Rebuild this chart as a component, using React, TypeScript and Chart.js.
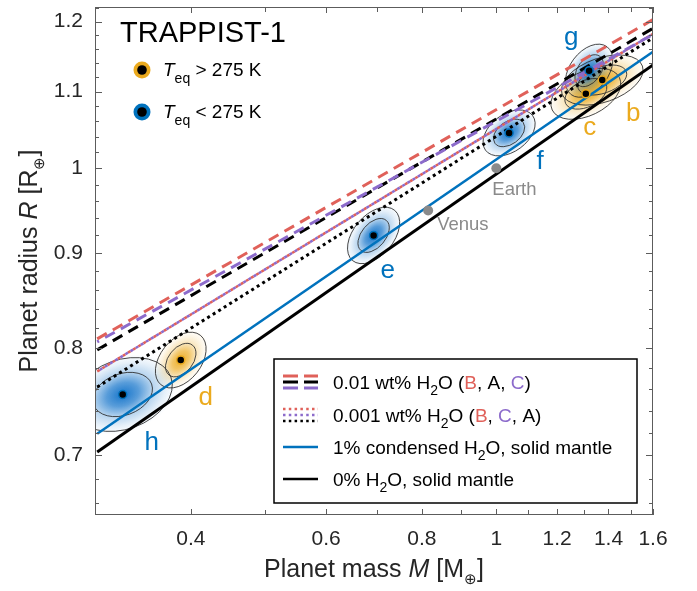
import React, { useEffect, useRef } from 'react';
import { Chart, registerables } from 'chart.js';

Chart.register(...registerables);

const FF = '"Liberation Sans", Arial, Helvetica, sans-serif';

// ---- data ----
const planetNames = ['b', 'c', 'd', 'e', 'f', 'g', 'h'];
const planetMass = [1.374, 1.308, 0.388, 0.692, 1.039, 1.321, 0.326];
const planetRadius = [1.116, 1.097, 0.788, 0.92, 1.045, 1.129, 0.755];
const planetMassErr = [0.069, 0.056, 0.012, 0.022, 0.033, 0.038, 0.02];
const planetRadiusErr = [0.014, 0.014, 0.011, 0.013, 0.012, 0.015, 0.014];
const planetCorr = [0.4, 0.4, 0.4, 0.45, 0.4, 0.4, 0.25];
const planetWarm = [true, true, true, false, false, false, false];

const refNames = ['Venus', 'Earth'];
const refMass = [0.815, 1.0];
const refRadius = [0.949, 1.0];

// model curves (straight in log-log): radius at the two ends of the mass range
const modelMass = [0.302, 1.6];
const r001B = [0.809, 1.203];
const r001A = [0.798, 1.19];
const r001C = [0.806, 1.181];
const r0001B = [0.777, 1.182];
const r0001C = [0.777, 1.182];
const r0001A = [0.762, 1.176];
const rCond1 = [0.719, 1.156];
const rDry = [0.703, 1.137];

const xTickValues = [0.4, 0.6, 0.8, 1, 1.2, 1.4, 1.6];
const xMinorValues = [0.5, 0.7, 0.9, 1.1, 1.3, 1.5];
const yTickValues = [0.7, 0.8, 0.9, 1, 1.1, 1.2];
const yMinorValues = [0.66, 0.68, 0.72, 0.74, 0.76, 0.78, 0.82, 0.84, 0.86, 0.88, 0.92, 0.94, 0.96, 0.98, 1.02, 1.04, 1.06, 1.08, 1.12, 1.14, 1.16, 1.18, 1.22];

// ---- styles ----
const RED = '#E0615A';
const PURPLE = '#8C6BCB';
const BLUE = '#0072BD';
const ORANGE = '#EBAA1E';
const GRAY = '#8A8A8A';
const TXT = '#262626';

// label offsets in px relative to the planet point
const planetLabelOffset: [number, number][] = [[31, 41], [4, 41], [25, 45], [14, 43], [31, 36], [-18, -26], [29, 56]];
const refLabelOffset: [number, number][] = [[9, 20], [-4, 27]];

type Seg = { t: string; size?: number; italic?: boolean; dy?: number; color?: string };

function drawRich(ctx: CanvasRenderingContext2D, segs: Seg[], x: number, y: number, align: 'left' | 'center', baseSize: number, color: string) {
  const fontOf = (s: Seg) => `${s.italic ? 'italic ' : ''}${s.size ?? baseSize}px ${FF}`;
  let total = 0;
  for (const s of segs) { ctx.font = fontOf(s); total += ctx.measureText(s.t).width; }
  let cx = align === 'center' ? x - total / 2 : x;
  ctx.textAlign = 'left';
  ctx.textBaseline = 'alphabetic';
  for (const s of segs) {
    ctx.font = fontOf(s);
    ctx.fillStyle = s.color ?? color;
    ctx.fillText(s.t, cx, y + (s.dy ?? 0));
    cx += ctx.measureText(s.t).width;
  }
}

function ellipseOf(i: number, xs: any, ys: any) {
  const cx = xs.getPixelForValue(planetMass[i]);
  const cy = ys.getPixelForValue(planetRadius[i]);
  const sx = xs.getPixelForValue(planetMass[i] + planetMassErr[i]) - cx;
  const sy = cy - ys.getPixelForValue(planetRadius[i] + planetRadiusErr[i]);
  const a = sx * sx, c = sy * sy, b = -planetCorr[i] * sx * sy;
  const theta = 0.5 * Math.atan2(2 * b, a - c);
  const m = (a + c) / 2, d = Math.sqrt(((a - c) / 2) ** 2 + b * b);
  return { cx, cy, theta, ra: Math.sqrt(m + d), rb: Math.sqrt(Math.max(m - d, 0.01)) };
}

const decoPlugin = {
  id: 'deco',
  beforeDatasetsDraw(chart: any) {
    const { ctx, chartArea: ar, scales } = chart;
    const xs = scales.x, ys = scales.y;
    ctx.save();
    ctx.beginPath();
    ctx.rect(ar.left, ar.top, ar.right - ar.left, ar.bottom - ar.top);
    ctx.clip();
    // shaded probability clouds
    for (let i = 0; i < planetNames.length; i++) {
      const e = ellipseOf(i, xs, ys);
      const rgb = planetWarm[i] ? '236,170,30' : '10,110,200';
      ctx.save();
      ctx.translate(e.cx, e.cy);
      ctx.rotate(e.theta);
      ctx.scale(e.ra, e.rb);
      const g = ctx.createRadialGradient(0, 0, 0, 0, 0, 2.7);
      g.addColorStop(0, `rgba(${rgb},0.95)`);
      g.addColorStop(0.3, `rgba(${rgb},0.68)`);
      g.addColorStop(0.55, `rgba(${rgb},0.3)`);
      g.addColorStop(0.8, `rgba(${rgb},0.1)`);
      g.addColorStop(1, `rgba(${rgb},0)`);
      ctx.fillStyle = g;
      ctx.beginPath();
      ctx.arc(0, 0, 2.7, 0, Math.PI * 2);
      ctx.fill();
      ctx.restore();
    }
    // contours
    ctx.strokeStyle = 'rgba(40,40,40,0.85)';
    ctx.lineWidth = 1;
    for (let i = 0; i < planetNames.length; i++) {
      const e = ellipseOf(i, xs, ys);
      for (const k of [1.5, 2.5]) {
        ctx.beginPath();
        ctx.ellipse(e.cx, e.cy, e.ra * k, e.rb * k, e.theta, 0, Math.PI * 2);
        ctx.stroke();
      }
    }
    ctx.restore();
  },
  afterDraw(chart: any) {
    const { ctx, chartArea: ar, scales } = chart;
    const xs = scales.x, ys = scales.y;
    ctx.save();
    // box
    ctx.strokeStyle = '#5c5c5c';
    ctx.lineWidth = 1;
    ctx.strokeRect(ar.left + 0.5, ar.top + 0.5, ar.right - ar.left - 1, ar.bottom - ar.top - 1);
    // inward ticks on all four sides
    const tickX = (v: number, len: number) => {
      const p = Math.round(xs.getPixelForValue(v)) + 0.5;
      ctx.beginPath();
      ctx.moveTo(p, ar.bottom); ctx.lineTo(p, ar.bottom - len);
      ctx.moveTo(p, ar.top); ctx.lineTo(p, ar.top + len);
      ctx.stroke();
    };
    const tickY = (v: number, len: number) => {
      const p = Math.round(ys.getPixelForValue(v)) + 0.5;
      ctx.beginPath();
      ctx.moveTo(ar.left, p); ctx.lineTo(ar.left + len, p);
      ctx.moveTo(ar.right, p); ctx.lineTo(ar.right - len, p);
      ctx.stroke();
    };
    xTickValues.forEach((v) => tickX(v, 6));
    xMinorValues.forEach((v) => tickX(v, 5));
    yTickValues.forEach((v) => tickY(v, 7));
    yMinorValues.forEach((v) => tickY(v, 4));

    // planet letters
    ctx.textAlign = 'center';
    ctx.textBaseline = 'alphabetic';
    ctx.font = `26px ${FF}`;
    planetNames.forEach((n, i) => {
      const px = xs.getPixelForValue(planetMass[i]);
      const py = ys.getPixelForValue(planetRadius[i]);
      ctx.fillStyle = planetWarm[i] ? ORANGE : BLUE;
      ctx.fillText(n, px + planetLabelOffset[i][0], py + planetLabelOffset[i][1]);
    });
    // Venus / Earth labels
    ctx.textAlign = 'left';
    ctx.font = `18.5px ${FF}`;
    ctx.fillStyle = GRAY;
    refNames.forEach((n, i) => {
      const px = xs.getPixelForValue(refMass[i]);
      const py = ys.getPixelForValue(refRadius[i]);
      ctx.fillText(n, px + refLabelOffset[i][0], py + refLabelOffset[i][1]);
    });

    // Title
    ctx.font = `29px ${FF}`;
    ctx.fillStyle = '#000';
    ctx.textAlign = 'left';
    ctx.fillText('TRAPPIST-1', ar.left + 25, ar.top + 35);

    // temperature legend
    const teq = [
      { col: ORANGE, sym: ' > 275 K', y: ar.top + 63 },
      { col: BLUE, sym: ' < 275 K', y: ar.top + 105 },
    ];
    teq.forEach((t) => {
      ctx.beginPath();
      ctx.arc(ar.left + 47, t.y, 8.5, 0, Math.PI * 2);
      ctx.fillStyle = t.col;
      ctx.fill();
      ctx.beginPath();
      ctx.arc(ar.left + 47, t.y, 4.8, 0, Math.PI * 2);
      ctx.fillStyle = '#000';
      ctx.fill();
      drawRich(ctx, [
        { t: 'T', italic: true },
        { t: 'eq', size: 14, dy: 7 },
        { t: t.sym },
      ], ar.left + 68, t.y + 6, 'left', 19, '#000');
    });

    // model legend box
    const bx = ar.left + 179, by = ar.top + 352, bw = 363, bh = 144;
    ctx.fillStyle = '#fff';
    ctx.fillRect(bx, by, bw, bh);
    ctx.strokeStyle = '#000';
    ctx.lineWidth = 1.5;
    ctx.strokeRect(bx, by, bw, bh);
    const lx0 = bx + 9, lx1 = bx + 44, tx = bx + 59;
    const rowY = [by + 23, by + 56, by + 88, by + 120];
    const seg = (y: number, color: string, w: number, dash: number[], off = 0) => {
      ctx.save();
      ctx.strokeStyle = color;
      ctx.lineWidth = w;
      ctx.setLineDash(dash);
      ctx.lineDashOffset = off;
      ctx.beginPath();
      ctx.moveTo(lx0, y); ctx.lineTo(lx1, y);
      ctx.stroke();
      ctx.restore();
    };
    seg(rowY[0] - 6, RED, 3, [15, 6]);
    seg(rowY[0], '#000', 3, [15, 6]);
    seg(rowY[0] + 6, PURPLE, 3, [15, 6]);
    seg(rowY[1] - 6, RED, 2.5, [2.5, 3.3]);
    seg(rowY[1], PURPLE, 2.5, [2.5, 3.3]);
    seg(rowY[1] + 6, '#000', 2.5, [2.5, 3.3]);
    seg(rowY[2], BLUE, 2.5, []);
    seg(rowY[3], '#000', 2.5, []);
    const sub = { t: '2', size: 14, dy: 6 };
    drawRich(ctx, [{ t: '0.01 wt% H' }, sub, { t: 'O (' }, { t: 'B', color: RED }, { t: ', A, ' }, { t: 'C', color: PURPLE }, { t: ')' }], tx, rowY[0] + 7, 'left', 19, '#000');
    drawRich(ctx, [{ t: '0.001 wt% H' }, sub, { t: 'O (' }, { t: 'B', color: RED }, { t: ', ' }, { t: 'C', color: PURPLE }, { t: ', A)' }], tx, rowY[1] + 7, 'left', 19, '#000');
    drawRich(ctx, [{ t: '1% condensed H' }, sub, { t: 'O, solid mantle' }], tx, rowY[2] + 7, 'left', 19, '#000');
    drawRich(ctx, [{ t: '0% H' }, sub, { t: 'O, solid mantle' }], tx, rowY[3] + 7, 'left', 19, '#000');

    // axis titles
    const cxm = (ar.left + ar.right) / 2;
    drawRich(ctx, [{ t: 'Planet mass ' }, { t: 'M', italic: true }, { t: ' [M' }, { t: '\u2295', size: 15, dy: 7 }, { t: ']' }], cxm, ar.bottom + 62, 'center', 25, TXT);
    ctx.save();
    ctx.translate(37, (ar.top + ar.bottom) / 2);
    ctx.rotate(-Math.PI / 2);
    drawRich(ctx, [{ t: 'Planet radius ' }, { t: 'R', italic: true }, { t: ' [R' }, { t: '\u2295', size: 15, dy: 7 }, { t: ']' }], 0, 0, 'center', 25, TXT);
    ctx.restore();
    ctx.restore();
  },
};

function lineDs(label: string, radii: number[], color: string, width: number, dash: number[], offset: number, order: number) {
  return {
    type: 'line' as const,
    label,
    data: modelMass.map((m, i) => ({ x: m, y: radii[i] })),
    borderColor: color,
    borderWidth: width,
    borderDash: dash,
    borderDashOffset: offset,
    borderCapStyle: 'butt' as const,
    pointRadius: 0,
    fill: false,
    tension: 0,
    order,
  };
}

export default function App() {
  const ref = useRef<HTMLCanvasElement | null>(null);
  useEffect(() => {
    if (!ref.current) return;
    const chart = new Chart(ref.current, {
      type: 'line',
      data: {
        datasets: [
          {
            type: 'scatter',
            label: 'Planets',
            data: planetMass.map((m, i) => ({ x: m, y: planetRadius[i] })),
            pointRadius: 4,
            pointBackgroundColor: '#000',
            pointBorderColor: planetWarm.map((w) => (w ? ORANGE : BLUE)),
            pointBorderWidth: 1.5,
            order: 0,
          } as any,
          {
            type: 'scatter',
            label: 'Solar system',
            data: refMass.map((m, i) => ({ x: m, y: refRadius[i] })),
            pointRadius: 5,
            pointBackgroundColor: GRAY,
            pointBorderWidth: 0,
            order: 1,
          } as any,
          lineDs('0.01 wt% H2O (B)', r001B, RED, 3, [11, 7], 0, 2),
          lineDs('0.01 wt% H2O (C)', r001C, PURPLE, 3, [11, 7], 9, 3),
          lineDs('0.01 wt% H2O (A)', r001A, '#000', 3, [11, 7], 0, 4),
          lineDs('0.001 wt% H2O (C)', r0001C, PURPLE, 2.5, [3, 3], 3, 5),
          lineDs('0.001 wt% H2O (B)', r0001B, RED, 2.5, [3, 3], 0, 6),
          lineDs('0.001 wt% H2O (A)', r0001A, '#000', 3, [3, 3.5], 0, 7),
          lineDs('1% condensed H2O', rCond1, BLUE, 2.5, [], 0, 8),
          lineDs('0% H2O', rDry, '#000', 3, [], 0, 9),
        ],
      },
      options: {
        animation: false,
        responsive: false,
        layout: { padding: { top: 7, right: 44, left: 0, bottom: 0 } },
        plugins: { legend: { display: false }, tooltip: { enabled: false } },
        scales: {
          x: {
            type: 'logarithmic',
            min: 0.302,
            max: 1.6,
            grid: { display: false, drawTicks: false },
            border: { display: false },
            ticks: {
              autoSkip: false,
              maxRotation: 0,
              padding: 12,
              color: TXT,
              font: { size: 21, family: FF },
              callback: (v: any) => String(v),
            },
            afterBuildTicks: (s: any) => { s.ticks = xTickValues.map((v) => ({ value: v })); },
            afterFit: (s: any) => { s.height = 76; s.paddingLeft = 0; s.paddingRight = 0; },
          },
          y: {
            type: 'logarithmic',
            min: 0.65,
            max: 1.222,
            grid: { display: false, drawTicks: false },
            border: { display: false },
            ticks: {
              autoSkip: false,
              padding: 12,
              color: TXT,
              font: { size: 21, family: FF },
              callback: (v: any) => String(v),
            },
            afterBuildTicks: (s: any) => { s.ticks = yTickValues.map((v) => ({ value: v })); },
            afterFit: (s: any) => { s.width = 95; s.paddingTop = 0; s.paddingBottom = 0; },
          },
        },
      } as any,
      plugins: [decoPlugin],
    });
    return () => chart.destroy();
  }, []);
  return (
    <div style={{ position: 'absolute', left: 0, top: 0, width: 697, height: 591, background: '#fff' }}>
      <canvas ref={ref} width={697} height={591} style={{ display: 'block', width: 697, height: 591 }} />
    </div>
  );
}
